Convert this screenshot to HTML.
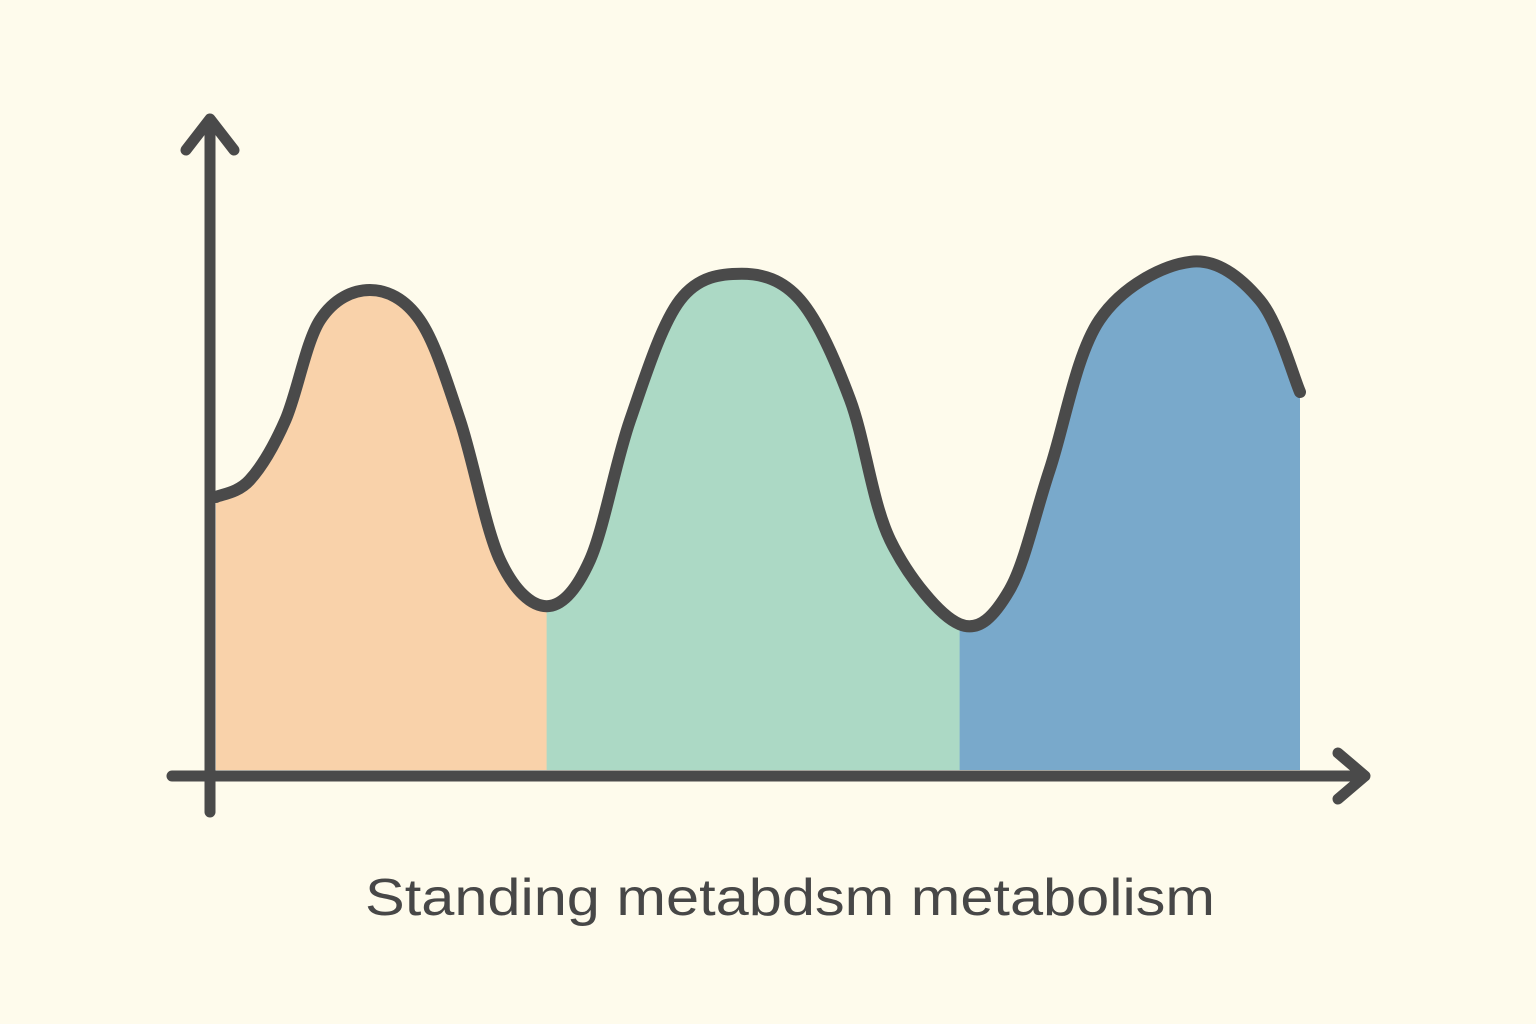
<!DOCTYPE html>
<html><head><meta charset="utf-8"><style>
html,body{margin:0;padding:0;background:#fefbec;}
svg{display:block}
</style></head><body>
<svg width="1536" height="1024" viewBox="0 0 1536 1024">
<rect width="1536" height="1024" fill="#fefbec"/>
<defs><clipPath id="under"><path id="areaPath"/></clipPath></defs>
<g id="fills" clip-path="url(#under)"></g>
<path id="curve" fill="none" stroke="#4a4a4a" stroke-width="12" stroke-linecap="round" stroke-linejoin="round"/>
<g stroke="#4a4a4a" stroke-width="11" stroke-linecap="round" stroke-linejoin="round" fill="none">
<path d="M210 812 L210 120"/>
<path d="M186 150 L210 119 L234 150"/>
<path d="M172 776 L1364 776"/>
<path d="M1338 753 L1365 776 L1338 799"/>
</g>
<text x="790" y="915" text-anchor="middle" font-family="Liberation Sans, sans-serif" font-size="52" fill="#474747" textLength="850" lengthAdjust="spacingAndGlyphs">Standing metabdsm metabolism</text>
</svg>
<script>
const xValues=[0,3.1,6.4,9.6,14.2,18.8,22.5,26.2,30.5,34.5,38.2,42.8,48.5,53.9,58.5,62.2,68.6,73.2,76.9,81.5,89.9,96.3,100];
const yValues=[45.5,48.3,58.3,75,80,75,58.3,35,27.3,35,58.3,78.3,82.7,78.3,61.7,38.3,24.3,30,50,75,84.7,78.3,63];
const regionStarts=[0,30.5,68.6];
const regionEnds=[30.5,68.6,100];
const regionColors=['#f9d2aa','#acd9c5','#79a9cb'];
const regionNames=['region-orange','region-green','region-blue'];
const sx=v=>216+v*10.84, sy=v=>770-v*6;
const P=xValues.map((x,i)=>[sx(x),sy(yValues[i])]);
let d='M'+P[0][0]+' '+P[0][1];
for(let i=0;i<P.length-1;i++){
 const p0=P[Math.max(i-1,0)],p1=P[i],p2=P[i+1],p3=P[Math.min(i+2,P.length-1)];
 const c1=[p1[0]+(p2[0]-p0[0])/6,p1[1]+(p2[1]-p0[1])/6];
 const c2=[p2[0]-(p3[0]-p1[0])/6,p2[1]-(p3[1]-p1[1])/6];
 d+=` C${c1[0]} ${c1[1]} ${c2[0]} ${c2[1]} ${p2[0]} ${p2[1]}`;
}
document.getElementById('curve').setAttribute('d',d);
const last=P[P.length-1];
document.getElementById('areaPath').setAttribute('d',d+` L${last[0]} ${sy(0)} L${P[0][0]} ${sy(0)} Z`);
const g=document.getElementById('fills');
regionStarts.forEach((s,i)=>{
 const r=document.createElementNS('http://www.w3.org/2000/svg','rect');
 r.setAttribute('x',sx(s));r.setAttribute('y',0);
 r.setAttribute('width',sx(regionEnds[i])-sx(s)+(i<2?0.5:0));r.setAttribute('height',sy(0));
 r.setAttribute('fill',regionColors[i]);
 
 
 g.appendChild(r);
});
</script>
</body></html>
